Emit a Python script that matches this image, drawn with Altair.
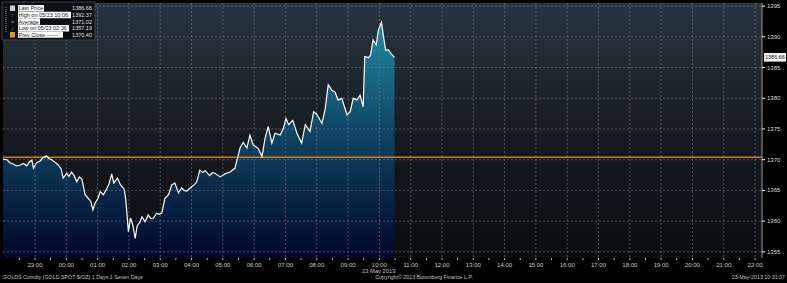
import altair as alt
import pandas as pd

# ---------------- data ----------------
times = [
    "21:59", "22:06", "22:12", "22:18", "22:24", "22:31", "22:38", "22:44", "22:50", "22:54",
    "22:57", "23:03", "23:10", "23:16", "23:22", "23:27", "23:32", "23:38", "23:45", "23:50",
    "23:54", "00:01", "00:05", "00:10", "00:15", "00:20", "00:25", "00:30", "00:36", "00:42",
    "00:47", "00:51", "00:55", "01:00", "01:05", "01:11", "01:17", "01:22", "01:27", "01:31",
    "01:38", "01:44", "01:51", "01:54", "01:59", "02:03", "02:07", "02:12", "02:16", "02:21",
    "02:25", "02:31", "02:37", "02:42", "02:47", "02:53", "02:58", "03:03", "03:09", "03:16",
    "03:22", "03:28", "03:35", "03:41", "03:46", "03:51", "04:00", "04:05", "04:10", "04:16",
    "04:21", "04:26", "04:35", "04:40", "04:45", "04:55", "05:04", "05:14", "05:23", "05:28",
    "05:33", "05:39", "05:46", "05:52", "05:58", "06:08", "06:15", "06:21", "06:27", "06:34",
    "06:40", "06:50", "06:56", "07:01", "07:06", "07:14", "07:22", "07:31", "07:38", "07:47",
    "07:54", "08:00", "08:10", "08:16", "08:22", "08:29", "08:35", "08:41", "08:48", "08:58",
    "09:04", "09:10", "09:17", "09:23", "09:29", "09:32", "09:39", "09:43", "09:48", "09:54",
    "09:58", "10:04", "10:08", "10:12", "10:17", "10:22", "10:29",
]
prices = [
    1370.1, 1370.0, 1369.5, 1369.3, 1369.0, 1369.1, 1369.4, 1369.0, 1369.7, 1369.9,
    1368.6, 1369.5, 1369.8, 1370.4, 1370.6, 1370.2, 1370.0, 1369.6, 1369.1, 1368.5,
    1367.0, 1367.8, 1367.3, 1368.0, 1367.4, 1366.4, 1367.2, 1366.8, 1364.3, 1363.7,
    1363.2, 1361.8, 1362.9, 1363.6, 1364.8, 1364.3, 1365.2, 1366.1, 1367.7, 1366.2,
    1367.0, 1365.9, 1365.2, 1363.5, 1358.3, 1360.5, 1359.5, 1357.19, 1359.3, 1359.8,
    1360.7, 1359.9, 1361.0, 1360.4, 1360.5, 1361.3, 1361.1, 1361.3, 1363.7, 1364.3,
    1365.9, 1366.2, 1364.6, 1365.4, 1365.0, 1364.9, 1365.6, 1365.9, 1366.4, 1368.3,
    1367.9, 1368.2, 1367.4, 1367.9, 1367.8, 1367.2, 1367.7, 1368.0, 1368.6, 1370.2,
    1371.9, 1372.8, 1371.9, 1374.0, 1372.4, 1371.8, 1370.5, 1373.5, 1375.4, 1372.7,
    1374.3, 1374.0, 1375.1, 1376.7, 1375.7, 1376.4, 1374.3, 1372.7, 1375.7, 1374.6,
    1377.8, 1377.4, 1375.9, 1378.2, 1382.2, 1381.3, 1381.0, 1379.7, 1380.0, 1377.3,
    1377.8, 1380.0, 1379.7, 1380.5, 1378.6, 1386.8, 1386.6, 1387.0, 1389.5, 1388.7,
    1391.1, 1392.37, 1390.0, 1387.8, 1387.9, 1387.3, 1386.66,
]
prev_close = 1370.40
last_price = 1386.66
y_min, y_max = 1354, 1395.5
y_ticks = [1355, 1360, 1365, 1370, 1375, 1380, 1385, 1390, 1395]
hour_labels = ["23:00", "00:00", "01:00", "02:00", "03:00", "04:00", "05:00",
               "06:00", "07:00", "08:00", "09:00", "10:00", "11:00", "12:00", "13:00",
               "14:00", "15:00", "16:00", "17:00", "18:00", "19:00", "20:00", "21:00", "22:00"]

legend_labels = ["Last Price", "High on 05/23 10:06", "Average",
                 "Low on 05/23 02:36", "Prev Close ------"]
legend_values = ["1386.66", "1392.37", "1371.02", "1357.19", "1370.40"]
legend_label_widths = [26, 53, 22, 51, 45]

footer_left = "GOLDS Comdty (GOLD SPOT $/OZ) 1 Days 1 Seven Days"
footer_mid = "Copyright\u00a9 2013 Bloomberg Finance L.P."
footer_right = "23-May-2013 10:31:07"
date_label = "23 May 2013"

# ---------------- build ----------------
# minutes since 22:00 on 22 May 2013
def minutes(t):
    h, m = int(t[:2]), int(t[3:])
    return (h - 22) * 60 + m if h >= 21 else (h + 2) * 60 + m

df = pd.DataFrame({"t": [minutes(t) for t in times], "price": prices})
hour_pos = [60 * (i + 1) for i in range(len(hour_labels))]   # 23:00 ... 22:00 next day
xl = pd.DataFrame({"h": hour_pos, "lab": hour_labels})
half = pd.DataFrame({"h": sorted(set([p - 30 for p in hour_pos] + hour_pos))})
yl = pd.DataFrame({"v": y_ticks})

W, H = 759, 255
FONT = "Liberation Sans"
GRID = "#737b82"

x_scale = alt.Scale(domain=[-1.33, 1453.33], zero=False, nice=False)
y_scale = alt.Scale(domain=[y_min, y_max], zero=False, nice=False)
X = lambda f: alt.X(f, scale=x_scale, axis=None)
Y = lambda f: alt.Y(f, scale=y_scale, axis=None)

one = pd.DataFrame({"k": [0]})

bg = alt.Chart(one).mark_rect(
    fill=alt.Gradient(
        gradient="linear", x1=0, x2=0, y1=0, y2=1,
        stops=[alt.GradientStop(offset=0, color="#283540"),
               alt.GradientStop(offset=0.5, color="#161c22"),
               alt.GradientStop(offset=1, color="#0b0c0e")],
    )
).encode(x=alt.value(0), x2=alt.value(W), y=alt.value(0), y2=alt.value(H))

area = alt.Chart(df).mark_area(
    fill=alt.Gradient(
        gradient="linear", x1=0, x2=0, y1=0, y2=1,
        stops=[alt.GradientStop(offset=0, color="#1f8aa5"),
               alt.GradientStop(offset=0.45, color="#0f4766"),
               alt.GradientStop(offset=1, color="#02072a")],
    ),
).encode(x=X("t:Q"), y=Y("price:Q"), y2=alt.datum(y_min))

vgrid = alt.Chart(xl).mark_rule(color=GRID, strokeDash=[2, 2], strokeWidth=0.8, opacity=0.8).encode(
    x=X("h:Q"), y=alt.value(0), y2=alt.value(H))
hgrid = alt.Chart(yl).mark_rule(color=GRID, strokeDash=[2, 2], strokeWidth=0.8, opacity=0.8).encode(
    y=Y("v:Q"), x=alt.value(0), x2=alt.value(W))

prev = alt.Chart(pd.DataFrame({"p": [prev_close]})).mark_rule(
    color="#d27d22", strokeWidth=1.6
).encode(y=Y("p:Q"), x=alt.value(0), x2=alt.value(W))

line = alt.Chart(df).mark_line(color="#ffffff", strokeWidth=1.2).encode(
    x=X("t:Q"), y=Y("price:Q"))

# axes drawn from the tick lists
xticks = alt.Chart(half).mark_rule(color="#bbbbbb", strokeWidth=1).encode(
    x=X("h:Q"), y=alt.value(H), y2=alt.value(H + 2))
xlabels = alt.Chart(xl).mark_text(
    font=FONT, fontSize=6, color="#c8c8c8", align="center", baseline="middle"
).encode(x=X("h:Q"), y=alt.value(H + 7), text="lab:N")
ydomain = alt.Chart(one).mark_rule(color="#9a9a9a", strokeWidth=1).encode(
    x=alt.value(W), y=alt.value(0), y2=alt.value(H))
yticks = alt.Chart(yl).mark_rule(color="#ffffff", strokeWidth=1).encode(
    y=Y("v:Q"), x=alt.value(W), x2=alt.value(W + 3))
ylabels = alt.Chart(yl).mark_text(
    font=FONT, fontSize=6, color="#d8d8d8", align="left", baseline="middle"
).encode(y=Y("v:Q"), x=alt.value(W + 5), text=alt.Text("v:Q", format="d"))

# last price tag on the right axis
lp = pd.DataFrame({"v": [last_price], "lo": [last_price - 0.7], "hi": [last_price + 0.7],
                   "s": [f"{last_price:.2f}"]})
tag_box = alt.Chart(lp).mark_rect(fill="#f2f2f2").encode(
    x=alt.value(W + 2), x2=alt.value(W + 24), y=Y("hi:Q"), y2="lo:Q")
tag_txt = alt.Chart(lp).mark_text(
    font=FONT, fontSize=5.5, color="#202020", align="left", baseline="middle"
).encode(x=alt.value(W + 3), y=Y("v:Q"), text="s:N")

layers = [bg, area, vgrid, hgrid, prev, line, xticks, xlabels, ydomain, yticks, ylabels,
          tag_box, tag_txt]

# legend box
layers.append(alt.Chart(one).mark_rect(fill="#0b1014", stroke="#3c444c", strokeWidth=1).encode(
    x=alt.value(-1), x2=alt.value(92), y=alt.value(-1), y2=alt.value(37)))
row_y = [5.3, 12, 18.5, 25.3, 31.6]
for i, (lab, val) in enumerate(zip(legend_labels, legend_values)):
    ry = row_y[i]
    d = pd.DataFrame({"lab": [lab], "val": [val]})
    layers.append(alt.Chart(d).mark_rect(fill="#ffffff").encode(
        x=alt.value(15), x2=alt.value(15 + legend_label_widths[i]),
        y=alt.value(ry - 3.2), y2=alt.value(ry + 3.2)))
    layers.append(alt.Chart(d).mark_text(
        font=FONT, fontSize=5.5, color="#202020", align="left", baseline="middle"
    ).encode(x=alt.value(15.5), y=alt.value(ry), text="lab:N"))
    layers.append(alt.Chart(d).mark_text(
        font=FONT, fontSize=5.5, color="#e0e0e0", align="right", baseline="middle"
    ).encode(x=alt.value(89), y=alt.value(ry), text="val:N"))

# legend icons
layers.append(alt.Chart(one).mark_rect(fill="#cfcfcf").encode(
    x=alt.value(7), x2=alt.value(12), y=alt.value(2.5), y2=alt.value(8)))
layers.append(alt.Chart(one).mark_rect(fill="#f08a1c").encode(
    x=alt.value(7), x2=alt.value(12), y=alt.value(29), y2=alt.value(34.5)))
layers.append(alt.Chart(one).mark_rule(color="#8a8a8a", strokeDash=[1, 1]).encode(
    x=alt.value(3), y=alt.value(4), y2=alt.value(29)))
for i, g in zip([1, 2, 3], ["\u2191", "=", "\u2193"]):
    layers.append(alt.Chart(pd.DataFrame({"g": [g]})).mark_text(
        font=FONT, fontSize=5.5, color="#9a9a9a", align="center", baseline="middle"
    ).encode(x=alt.value(9.5), y=alt.value(row_y[i]), text="g:N"))

# footer texts
def txt(s, x, y, align, color="#c0c0c0", size=5.3):
    return alt.Chart(pd.DataFrame({"s": [s]})).mark_text(
        font=FONT, fontSize=size, color=color, align=align, baseline="middle"
    ).encode(x=alt.value(x), y=alt.value(y), text="s:N")

layers.append(txt(date_label, 359, H + 13, "left", size=5.8))
layers.append(txt(footer_left, 0, H + 19, "left"))
layers.append(txt(footer_mid, 421, H + 19, "center"))
layers.append(txt(footer_right, 782, H + 19, "right"))

chart = alt.layer(*layers).properties(
    width=W, height=H,
    autosize=alt.AutoSizeParams(type="none"),
    padding={"left": 3, "top": 3, "right": 25, "bottom": 25},
    background="#000000",
).configure_view(strokeWidth=0)

chart.save("out.html", embed_options={"renderer": "svg", "actions": False})
